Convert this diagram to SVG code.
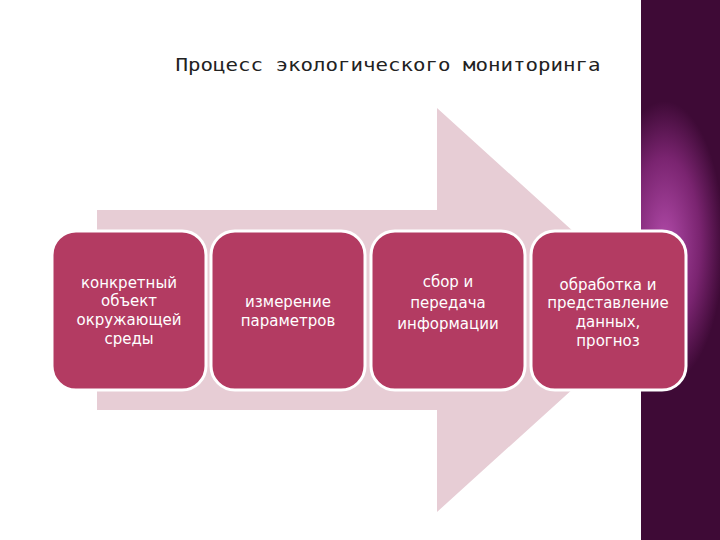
<svg xmlns="http://www.w3.org/2000/svg" width="720" height="540" viewBox="0 0 720 540">
<defs>
<radialGradient id="pg" cx="0.3" cy="0.45" r="0.75" gradientTransform="translate(0.3 0.45) scale(1 0.35) translate(-0.3 -0.45)">
<stop offset="0" stop-color="#b04aa8"/><stop offset="0.6" stop-color="#7a2470"/><stop offset="1" stop-color="#3e0a36"/>
</radialGradient>
<style>
.box{fill:#b33b62;stroke:#fff;stroke-width:3}
.t{font-family:"DejaVu Sans",sans-serif;font-size:15px;fill:#fff;text-anchor:middle}
</style>
</defs>
<rect width="720" height="540" fill="#fff"/>
<g id="arrow"><polygon points="97,210 437,210 437,108 660,310 437,512 437,410 97,410" fill="#e7cdd5"/></g>
<rect x="641" y="0" width="79" height="540" fill="url(#pg)"/>
<text x="388" y="71" font-family="DejaVu Sans Mono,monospace" font-size="18" fill="#222" text-anchor="middle" textLength="425" lengthAdjust="spacingAndGlyphs">Процесс экологического мониторинга</text>
<g id="n1"><rect class="box" x="52" y="231" width="154" height="159" rx="24"/>
<text class="t" x="129" y="288">конкретный</text><text class="t" x="129" y="306">объект</text><text class="t" x="129" y="325">окружающей</text><text class="t" x="129" y="344">среды</text></g>
<g id="n2"><rect class="box" x="211" y="231" width="154" height="159" rx="24"/>
<text class="t" x="288" y="307">измерение</text><text class="t" x="288" y="326">параметров</text></g>
<g id="n3"><rect class="box" x="371" y="231" width="154" height="159" rx="24"/>
<text class="t" x="448" y="287">сбор и</text><text class="t" x="448" y="308">передача</text><text class="t" x="448" y="329">информации</text></g>
<g id="n4"><rect class="box" x="531" y="231" width="155" height="159" rx="24"/>
<text class="t" x="608" y="290">обработка и</text><text class="t" x="608" y="308">представление</text><text class="t" x="608" y="327">данных,</text><text class="t" x="608" y="346">прогноз</text></g>
<g id="connectors"/>
</svg>
